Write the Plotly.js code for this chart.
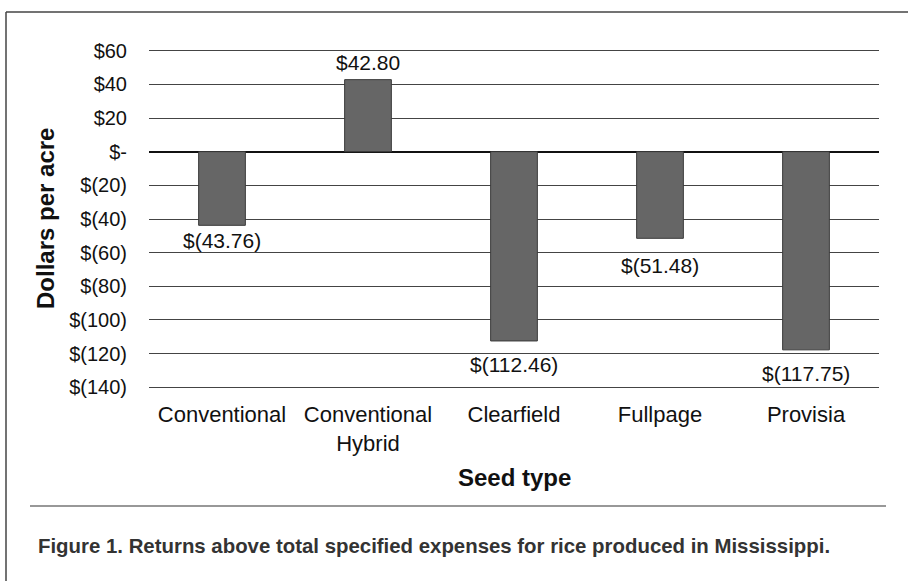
<!DOCTYPE html>
<html>
<head>
<meta charset="utf-8">
<script src="https://cdn.plot.ly/plotly-3.0.1.min.js"></script>
<style>
html,body{margin:0;padding:0;background:#fff;}
#chart{width:908px;height:581px;}
</style>
</head>
<body>
<div id="chart"></div>
<script>
var categories = ["Conventional", "Conventional<br>Hybrid", "Clearfield", "Fullpage", "Provisia"];
var values = [-43.76, 42.80, -112.46, -51.48, -117.75];
var tickValues = [60, 40, 20, 0, -20, -40, -60, -80, -100, -120, -140];
var tickLabels = ["$60", "$40", "$20", "$-", "$(20)", "$(40)", "$(60)", "$(80)", "$(100)", "$(120)", "$(140)"];

// label offsets from bar end, in pixels (style only)
var labelGap = [15, 17, 24, 27, 24];

function fmt(v) {
  var s = Math.abs(v).toFixed(2);
  return v < 0 ? "$(" + s + ")" : "$" + s;
}
var labels = values.map(fmt);

var W = 908, H = 581;
var mL = 149, mR = 29, mT = 49, mB = 192;
var pw = W - mL - mR, ph = H - mT - mB;
function px2x(px) { return (px - mL) / pw; }
function py2y(py) { return (H - mB - py) / ph; }

var font = "Liberation Sans, Arial, Helvetica, sans-serif";

var trace = {
  type: "bar",
  x: categories,
  y: values,
  marker: {color: "#666666", line: {color: "#3a3a3a", width: 1}},
  width: 0.32,
  hoverinfo: "skip"
};

var annotations = values.map(function (v, i) {
  return {
    xref: "x", yref: "y", x: categories[i], y: v,
    text: labels[i], showarrow: false,
    font: {family: font, size: 21, color: "#111"},
    xanchor: "center", yanchor: "middle",
    yshift: v < 0 ? -labelGap[i] : labelGap[i]
  };
});

annotations.push(
  {xref: "paper", yref: "paper", x: px2x(45), y: py2y(219), text: "<b>Dollars per acre</b>",
   textangle: -90, showarrow: false, font: {family: font, size: 24, color: "#111"},
   xanchor: "center", yanchor: "middle"},
  {xref: "paper", yref: "paper", x: px2x(514), y: py2y(477), text: "<b>Seed type</b>",
   showarrow: false, font: {family: font, size: 24, color: "#111"},
   xanchor: "center", yanchor: "middle"},
  {xref: "paper", yref: "paper", x: px2x(36), y: py2y(546), text: "<b>Figure 1. Returns above total specified expenses for rice produced in Mississippi.</b>",
   showarrow: false, font: {family: font, size: 20.4, color: "#333"},
   xanchor: "left", yanchor: "middle"}
);

var layout = {
  width: W, height: H,
  margin: {l: mL, r: mR, t: mT, b: mB},
  paper_bgcolor: "#fff",
  plot_bgcolor: "#fff",
  showlegend: false,
  font: {family: font, color: "#111"},
  xaxis: {
    type: "category",
    showgrid: false,
    showline: false,
    zeroline: false,
    ticks: "",
    tickfont: {family: font, size: 22, color: "#111"},
    ticklabelstandoff: 10,
    fixedrange: true
  },
  yaxis: {
    range: [-141, 61],
    tickvals: tickValues,
    ticktext: tickLabels,
    showgrid: true,
    gridcolor: "#444",
    gridwidth: 1,
    zeroline: true,
    zerolinecolor: "#111",
    zerolinewidth: 2,
    showline: false,
    ticks: "",
    ticklabelstandoff: 21,
    tickfont: {family: font, size: 20, color: "#111"},
    fixedrange: true
  },
  annotations: annotations,
  shapes: [
    {type: "line", xref: "paper", yref: "paper", x0: px2x(6), x1: px2x(908), y0: py2y(12), y1: py2y(12),
     line: {color: "#444", width: 1.5}},
    {type: "line", xref: "paper", yref: "paper", x0: px2x(6), x1: px2x(6), y0: py2y(12), y1: py2y(581),
     line: {color: "#444", width: 1.5}},
    {type: "line", xref: "paper", yref: "paper", x0: px2x(30), x1: px2x(886), y0: py2y(506), y1: py2y(506),
     line: {color: "#333", width: 1.2}}
  ]
};

Plotly.newPlot("chart", [trace], layout, {displayModeBar: false, staticPlot: true});
</script>
</body>
</html>
